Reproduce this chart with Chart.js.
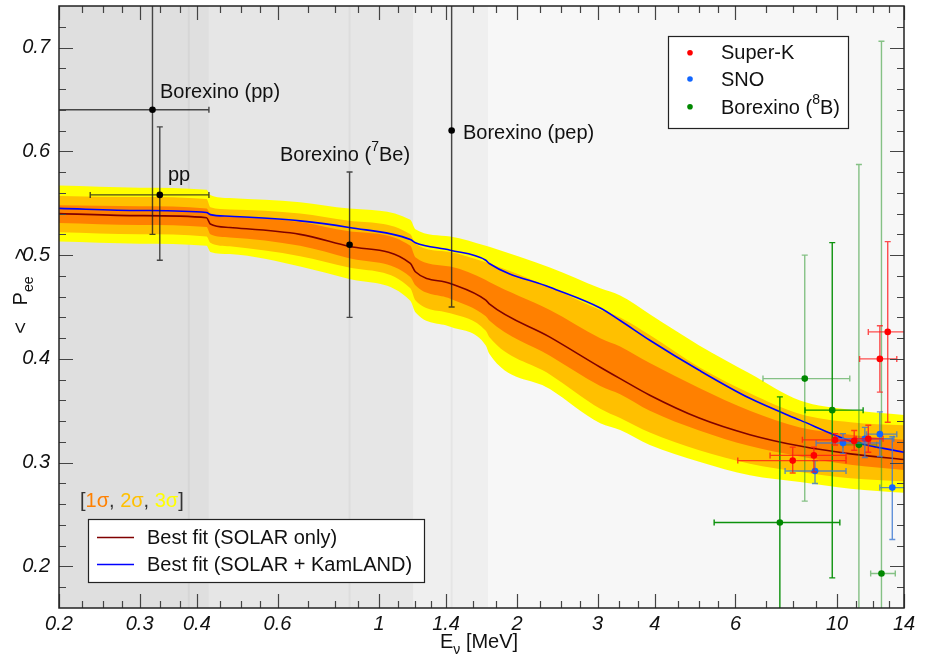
<!DOCTYPE html>
<html>
<head>
<meta charset="utf-8">
<script src="https://cdn.jsdelivr.net/npm/chart.js@4.4.0/dist/chart.umd.min.js"></script>
<style>
    html, body { margin: 0; padding: 0; background: #fff; }
</style>
</head>
<body>
<canvas id="grafico" width="925" height="663"></canvas>
<script>
const ctx = document.getElementById('grafico');
const fuente = '"Liberation Sans", Arial, Helvetica, sans-serif';

// energias (MeV) donde se leyeron las curvas y bandas
const energias = [0.2, 0.3, 0.42, 0.428, 0.472, 0.672, 0.86, 1.17, 1.2, 1.43, 1.71, 1.74, 2.36, 3.04, 3.36, 3.9, 5.0, 6.45, 8.3, 10.7, 14];
const mejorSolar = [0.540, 0.538, 0.536, 0.530, 0.5266, 0.520, 0.5086, 0.492, 0.484, 0.4727, 0.4566, 0.453, 0.421, 0.392, 0.381, 0.365, 0.343, 0.327, 0.316, 0.3085, 0.303];
const mejorKamland = [0.545, 0.543, 0.541, 0.539, 0.5375, 0.533, 0.5266, 0.515, 0.512, 0.5047, 0.495, 0.4919, 0.469, 0.449, 0.437, 0.418, 0.389, 0.362, 0.341, 0.321, 0.310];
const sigma1Bajo = [0.531, 0.529, 0.527, 0.520, 0.517, 0.509, 0.497, 0.479, 0.471, 0.458, 0.441, 0.437, 0.403, 0.374, 0.366, 0.350, 0.331, 0.316, 0.306, 0.298, 0.293];
const sigma1Alto = [0.548, 0.547, 0.545, 0.540, 0.5375, 0.532, 0.523, 0.509, 0.498, 0.489, 0.476, 0.474, 0.447, 0.420, 0.412, 0.396, 0.372, 0.350, 0.334, 0.327, 0.322];
const sigma2Bajo = [0.522, 0.520, 0.518, 0.512, 0.5085, 0.499, 0.488, 0.468, 0.4566, 0.444, 0.427, 0.421, 0.385, 0.352, 0.343, 0.329, 0.312, 0.299, 0.291, 0.285, 0.282];
const sigma2Alto = [0.557, 0.556, 0.554, 0.546, 0.544, 0.540, 0.533, 0.520, 0.511, 0.503, 0.493, 0.492, 0.469, 0.447, 0.440, 0.423, 0.392, 0.367, 0.347, 0.339, 0.336];
const sigma3Bajo = [0.513, 0.511, 0.509, 0.503, 0.501, 0.489, 0.477, 0.456, 0.445, 0.431, 0.413, 0.405, 0.371, 0.338, 0.3315, 0.317, 0.301, 0.288, 0.2815, 0.275, 0.271];
const sigma3Alto = [0.567, 0.565, 0.563, 0.558, 0.555, 0.551, 0.545, 0.534, 0.525, 0.518, 0.509, 0.508, 0.488, 0.468, 0.461, 0.443, 0.413, 0.386, 0.360, 0.351, 0.346];

// Borexino baja energia: pp, pp (global), 7Be, pep
const bxE = [0.32, 0.332, 0.862, 1.44];
const bxP = [0.64, 0.558, 0.51, 0.62];
const bxEmin = [0.15, 0.234, 0.862, 1.44];
const bxEmax = [0.425, 0.425, 0.862, 1.44];
const bxPmin = [0.52, 0.495, 0.44, 0.45];
const bxPmax = [0.76, 0.6235, 0.58, 0.79];

// Super-K
const skE = [8.0, 8.9, 9.9, 10.9, 11.7, 12.4, 12.9];
const skP = [0.302, 0.307, 0.322, 0.321, 0.323, 0.400, 0.426];
const skEmin = [6.07, 7.14, 8.4, 9.8, 11.0, 11.2, 11.7];
const skEmax = [10.46, 10.46, 11.0, 11.8, 12.6, 13.5, 15];
const skPmin = [0.290, 0.291, 0.317, 0.312, 0.310, 0.368, 0.339];
const skPmax = [0.315, 0.315, 0.328, 0.331, 0.336, 0.432, 0.513];

// SNO
const snoE = [8.95, 10.3, 11.5, 12.4, 13.2];
const snoP = [0.292, 0.319, 0.323, 0.3275, 0.276];
const snoEmin = [7.7, 9.0, 10.0, 11.6, 12.4];
const snoEmax = [10.46, 12.4, 13.3, 13.5, 15];
const snoPmin = [0.280, 0.309, 0.305, 0.306, 0.226];
const snoPmax = [0.302, 0.328, 0.334, 0.349, 0.325];

// Borexino 8B
const b8E = [7.5, 8.5, 9.76, 11.16, 12.5];
const b8P = [0.2424, 0.381, 0.3506, 0.3172, 0.1933];
const b8Emin = [5.39, 6.89, 8.51, 10.3, 11.84];
const b8Emax = [10.14, 10.66, 11.4, 12.2, 13.4];
const b8Pmin = [0.121, 0.263, 0.189, 0.046, -0.32];
const b8Pmax = [0.3634, 0.50, 0.512, 0.5873, 0.706];
const b8Claro = [false, true, false, true, true];

// ejes
const etiquetasX = [0.2, 0.3, 0.4, 0.6, 1, 1.4, 2, 3, 4, 6, 10, 14];
const menoresX = [0.225, 0.25, 0.275, 0.333, 0.367, 0.45, 0.5, 0.55, 0.7, 0.8, 0.9, 1.1, 1.2, 1.3, 1.6, 1.8, 2.25, 2.5, 2.75, 3.333, 3.667, 4.5, 5, 5.5, 7, 8, 9, 11, 12, 13];
const etiquetasY = [0.2, 0.3, 0.4, 0.5, 0.6, 0.7];
const menoresY = [0.18, 0.22, 0.24, 0.26, 0.28, 0.32, 0.34, 0.36, 0.38, 0.42, 0.44, 0.46, 0.48, 0.52, 0.54, 0.56, 0.58, 0.62, 0.64, 0.66, 0.68, 0.72];

// zonas del fondo (limites de espectros) y lineas monoenergeticas
const zonasE = [0.2, 0.425, 1.19, 1.73, 14];
const zonasColor = ['#dfdfdf', '#e6e6e6', '#efefef', '#f7f7f7'];
const lineasE = [0.384, 0.862, 1.44];

let curva = (ys) => energias.map((e, i) => ({x: e, y: ys[i]}));
let serie = (es, ps) => es.map((e, i) => ({x: e, y: ps[i]}));

let banda = (ys, color, orden, relleno) => ({
    data: curva(ys),
    borderWidth: 0,
    pointRadius: 0,
    backgroundColor: color,
    fill: relleno ? '+1' : false,
    order: orden,
    cubicInterpolationMode: 'monotone'
});

let puntosSerie = (es, ps, color, errores) => ({
    data: serie(es, ps),
    showLine: false,
    pointRadius: 3.3,
    pointBorderWidth: 0,
    pointBackgroundColor: color,
    order: 1,
    errores
});

const fondo = {
    id: 'fondo',
    beforeDatasetsDraw(chart) {
        const {ctx: c, chartArea: a, scales: {x}} = chart;
        c.save();
        for (let i = 0; i < zonasColor.length; i++) {
            let x1 = x.getPixelForValue(zonasE[i]);
            let x2 = x.getPixelForValue(zonasE[i + 1]);
            c.fillStyle = zonasColor[i];
            c.fillRect(x1, a.top, x2 - x1, a.bottom - a.top);
        }
        c.strokeStyle = 'rgba(0,0,0,0.04)';
        c.lineWidth = 2;
        lineasE.forEach(e => {
            let px = x.getPixelForValue(e);
            c.beginPath();
            c.moveTo(px, a.top);
            c.lineTo(px, a.bottom);
            c.stroke();
        });
        c.restore();
    }
};

const barrasError = {
    id: 'barrasError',
    beforeDatasetDraw(chart, args) {
        let ds = chart.data.datasets[args.index];
        if (!ds.errores) return;
        const {ctx: c, chartArea: a, scales: {x, y}} = chart;
        let err = ds.errores;
        c.save();
        c.beginPath();
        c.rect(a.left, a.top, a.right - a.left, a.bottom - a.top);
        c.clip();
        c.lineWidth = 1.4;
        ds.data.forEach((p, i) => {
            c.strokeStyle = Array.isArray(err.color) ? err.color[i] : err.color;
            let px = x.getPixelForValue(p.x), py = y.getPixelForValue(p.y);
            let x1 = x.getPixelForValue(err.eMin[i]), x2 = x.getPixelForValue(err.eMax[i]);
            let y1 = y.getPixelForValue(err.pMin[i]), y2 = y.getPixelForValue(err.pMax[i]);
            c.beginPath();
            if (Math.abs(x2 - x1) > 1) {
                c.moveTo(x1, py); c.lineTo(x2, py);
                c.moveTo(x1, py - 3); c.lineTo(x1, py + 3);
                c.moveTo(x2, py - 3); c.lineTo(x2, py + 3);
            }
            if (Math.abs(y2 - y1) > 1) {
                c.moveTo(px, y1); c.lineTo(px, y2);
                c.moveTo(px - 3, y1); c.lineTo(px + 3, y1);
                c.moveTo(px - 3, y2); c.lineTo(px + 3, y2);
            }
            c.stroke();
        });
        c.restore();
    }
};

const marco = {
    id: 'marco',
    afterDatasetsDraw(chart) {
        const {ctx: c, chartArea: a, scales: {x, y}} = chart;
        c.save();
        c.strokeStyle = '#444';
        c.lineWidth = 1.2;
        let marcaX = (v, largo) => {
            let px = Math.round(x.getPixelForValue(v)) + 0.5;
            c.beginPath();
            c.moveTo(px, a.bottom); c.lineTo(px, a.bottom - largo);
            c.moveTo(px, a.top); c.lineTo(px, a.top + largo);
            c.stroke();
        };
        let marcaY = (v, largo) => {
            let py = Math.round(y.getPixelForValue(v)) + 0.5;
            c.beginPath();
            c.moveTo(a.left, py); c.lineTo(a.left + largo, py);
            c.moveTo(a.right, py); c.lineTo(a.right - largo, py);
            c.stroke();
        };
        etiquetasX.forEach(v => marcaX(v, 14));
        menoresX.forEach(v => marcaX(v, 7));
        etiquetasY.forEach(v => marcaY(v, 14));
        menoresY.forEach(v => marcaY(v, 7));
        c.strokeStyle = '#222';
        c.lineWidth = 1.5;
        c.strokeRect(a.left, a.top, a.right - a.left, a.bottom - a.top);
        c.restore();
    }
};

let escribir = (c, trozos, x0, y0) => {
    let px = x0;
    trozos.forEach(t => {
        c.font = (t.tam || 20) + 'px ' + fuente;
        c.fillStyle = t.color || '#111';
        c.fillText(t.texto, px, y0 - (t.sube || 0));
        px += c.measureText(t.texto).width;
    });
    return px;
};

const textos = {
    id: 'textos',
    afterDraw(chart) {
        const c = chart.ctx;
        c.save();
        c.textBaseline = 'alphabetic';
        c.textAlign = 'left';

        escribir(c, [{texto: 'Borexino (pp)'}], 160, 98);
        escribir(c, [{texto: 'pp'}], 168, 181);
        escribir(c, [{texto: 'Borexino ('}, {texto: '7', tam: 14, sube: 10}, {texto: 'Be)'}], 280, 161);
        escribir(c, [{texto: 'Borexino (pep)'}], 463, 139);

        escribir(c, [
            {texto: '[', color: '#333'}, {texto: '1\u03c3', color: '#ff8000'}, {texto: ', ', color: '#333'},
            {texto: '2\u03c3', color: '#ffc000'}, {texto: ', ', color: '#333'},
            {texto: '3\u03c3', color: '#ffff00'}, {texto: ']', color: '#333'}
        ], 80, 507);

        // leyenda de datos
        c.fillStyle = '#fff';
        c.fillRect(668, 36, 180, 92);
        c.strokeStyle = '#222';
        c.lineWidth = 1.2;
        c.strokeRect(668.5, 36.5, 180, 92);
        [['#ff0000', 52.7], ['#1166ff', 79], ['#008800', 106.7]].forEach(([col, py]) => {
            c.fillStyle = col;
            c.beginPath();
            c.arc(690, py, 2.8, 0, Math.PI * 2);
            c.fill();
        });
        escribir(c, [{texto: 'Super-K'}], 721, 58.5);
        escribir(c, [{texto: 'SNO'}], 721, 86);
        escribir(c, [{texto: 'Borexino ('}, {texto: '8', tam: 14, sube: 10}, {texto: 'B)'}], 721, 113.5);

        // leyenda de curvas
        c.fillStyle = '#fff';
        c.fillRect(88, 519, 336, 63);
        c.strokeStyle = '#222';
        c.strokeRect(88.5, 519.5, 336, 63);
        c.lineWidth = 1.6;
        c.strokeStyle = '#800000';
        c.beginPath(); c.moveTo(97, 537.5); c.lineTo(134, 537.5); c.stroke();
        c.strokeStyle = '#0000ff';
        c.beginPath(); c.moveTo(97, 564.5); c.lineTo(134, 564.5); c.stroke();
        escribir(c, [{texto: 'Best fit (SOLAR only)'}], 147, 543.5);
        escribir(c, [{texto: 'Best fit (SOLAR + KamLAND)'}], 147, 570.5);

        // titulo eje x
        escribir(c, [{texto: 'E'}, {texto: '\u03bd', tam: 14, sube: -6}, {texto: ' [MeV]'}], 440, 648);

        // titulo eje y
        c.translate(27, 291);
        c.rotate(-Math.PI / 2);
        c.font = '20px ' + fuente;
        let ancho = c.measureText('<   P').width + c.measureText('   >').width;
        c.font = '14px ' + fuente;
        ancho += c.measureText('ee').width;
        escribir(c, [{texto: '<   P'}, {texto: 'ee', tam: 14, sube: -6}, {texto: '   >'}], -ancho / 2, 0);
        c.restore();
    }
};

let chart = new Chart(ctx, {
    type: 'line',
    data: {
        datasets: [
            puntosSerie(skE, skP, '#ff0000', {eMin: skEmin, eMax: skEmax, pMin: skPmin, pMax: skPmax, color: 'rgba(255,20,20,0.75)'}),
            puntosSerie(snoE, snoP, '#1166ff', {eMin: snoEmin, eMax: snoEmax, pMin: snoPmin, pMax: snoPmax, color: 'rgba(60,120,210,0.8)'}),
            puntosSerie(b8E, b8P, '#008800', {eMin: b8Emin, eMax: b8Emax, pMin: b8Pmin, pMax: b8Pmax,
                color: b8Claro.map(cl => cl ? 'rgba(40,150,40,0.55)' : 'rgba(0,140,0,0.95)')}),
            puntosSerie(bxE, bxP, '#000000', {eMin: bxEmin, eMax: bxEmax, pMin: bxPmin, pMax: bxPmax, color: 'rgba(30,30,30,0.8)'}),
            {
                data: curva(mejorKamland),
                borderColor: '#0000ff',
                borderWidth: 1.6,
                pointRadius: 0,
                fill: false,
                order: 2,
                cubicInterpolationMode: 'monotone'
            },
            {
                data: curva(mejorSolar),
                borderColor: '#800000',
                borderWidth: 1.6,
                pointRadius: 0,
                fill: false,
                order: 3,
                cubicInterpolationMode: 'monotone'
            },
            banda(sigma1Alto, '#ff8000', 6, true),
            banda(sigma1Bajo, '#ff8000', 6, false),
            banda(sigma2Alto, '#ffc000', 7, true),
            banda(sigma2Bajo, '#ffc000', 7, false),
            banda(sigma3Alto, '#ffff00', 8, true),
            banda(sigma3Bajo, '#ffff00', 8, false)
        ]
    },
    options: {
        responsive: false,
        animation: false,
        layout: {
            padding: {top: 6, right: 21, left: 0, bottom: 0}
        },
        plugins: {
            legend: {display: false},
            tooltip: {enabled: false}
        },
        scales: {
            x: {
                type: 'logarithmic',
                min: 0.2,
                max: 14,
                bounds: 'data',
                grid: {display: false, drawTicks: false},
                border: {display: false},
                afterBuildTicks: (scale) => { scale.ticks = etiquetasX.map(v => ({value: v})); },
                afterFit: (scale) => { scale.height = 55; scale.paddingLeft = 0; scale.paddingRight = 0; },
                ticks: {
                    autoSkip: false,
                    maxRotation: 0,
                    padding: 4,
                    color: '#111',
                    font: {family: fuente, size: 20, style: 'italic'},
                    callback: (v) => String(v)
                }
            },
            y: {
                type: 'linear',
                min: 0.16,
                max: 0.74,
                grid: {display: false, drawTicks: false},
                border: {display: false},
                afterBuildTicks: (scale) => { scale.ticks = etiquetasY.map(v => ({value: v})); },
                afterFit: (scale) => { scale.width = 59; scale.paddingTop = 0; scale.paddingBottom = 0; },
                ticks: {
                    padding: 9,
                    color: '#111',
                    font: {family: fuente, size: 20, style: 'italic'},
                    callback: (v) => String(v)
                }
            }
        }
    },
    plugins: [fondo, barrasError, marco, textos]
});
</script>
</body>
</html>
